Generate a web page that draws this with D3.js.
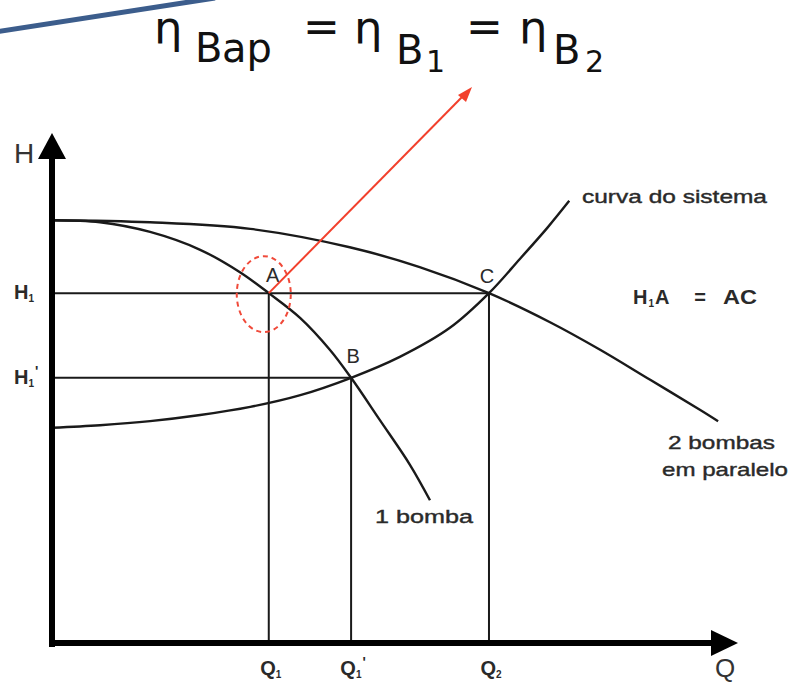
<!DOCTYPE html>
<html><head><meta charset="utf-8">
<script src="https://cdn.jsdelivr.net/npm/d3@7"></script>
<style>body{margin:0;background:#fff}svg{display:block}</style>
</head><body>
<script>
// ---- data (Q and H in arbitrary units) ----
const onePumpQ = [0, 0.70, 1.43, 2.16, 2.74, 3.16, 3.62, 4.05, 4.36, 4.78, 5.22, 5.51];
const onePumpH = [8.29, 8.25, 8.06, 7.71, 7.27, 6.86, 6.37, 5.75, 5.20, 4.37, 3.49, 2.80];
const twoPumpsQ = [0, 1.43, 2.89, 4.34, 5.36, 6.37, 7.26, 7.99, 8.72, 9.45, 9.71];
const twoPumpsH = [8.29, 8.25, 8.12, 7.76, 7.37, 6.86, 6.29, 5.75, 5.16, 4.57, 4.35];
const systemQ = [0, 0.70, 1.43, 2.16, 2.89, 3.62, 4.36, 5.07, 5.80, 6.37, 6.82, 7.22, 7.54];
const systemH = [4.22, 4.27, 4.35, 4.47, 4.63, 4.86, 5.20, 5.61, 6.18, 6.86, 7.53, 8.14, 8.67];
const pointNames = ["A", "B", "C"];
const pointQ = [3.16, 4.36, 6.37];
const pointH = [6.86, 5.20, 6.86];
const qTickValues = [3.16, 4.36, 6.37];
const qTickLabels = [["Q", "1", ""], ["Q", "1", "'"], ["Q", "2", ""]];
const hTickValues = [6.86, 5.20];
const hTickLabels = [["H", "1", ""], ["H", "1", "'"]];

const W = 794, H = 683;
const svg = d3.select("body").append("svg").attr("width", W).attr("height", H);

const x = d3.scaleLinear().domain([0, 10]).range([52, 738]);
const y = d3.scaleLinear().domain([0, 10]).range([643, 133]);
const ink = "#1a1a1a";
const font = "'Liberation Sans', Arial, sans-serif";
const txt = "#2a2a2a";

// decorative slide line
svg.append("line").attr("x1", -2).attr("y1", 31.5).attr("x2", 215).attr("y2", -2)
  .attr("stroke", "#3c5d8c").attr("stroke-width", 5);

// title
const tf = "'DejaVu Sans', 'Noto Sans', sans-serif";
const tcol = "#111";
function tt(str, xx, yy, fs) {
  svg.append("text").attr("x", xx).attr("y", yy).attr("font-family", tf)
    .attr("font-size", fs).attr("fill", tcol).text(str);
}
tt("η", 154, 43, 45); tt("B", 195, 62, 40); tt("ap", 222, 62, 40);
tt("=", 303, 42, 44);
tt("η", 354, 43, 45); tt("B", 396, 64, 40); tt("1", 426, 72, 30);
tt("=", 466, 42, 44);
tt("η", 519, 43, 45); tt("B", 553, 64, 40); tt("2", 585, 72, 30);

// reference lines to operating points
const pts = pointNames.map((n, i) => ({ n, q: pointQ[i], h: pointH[i] }));
svg.append("line").attr("x1", x(0)).attr("x2", x(pts[2].q)).attr("y1", y(pts[2].h)).attr("y2", y(pts[2].h))
  .attr("stroke", ink).attr("stroke-width", 2);
svg.append("line").attr("x1", x(0)).attr("x2", x(pts[1].q)).attr("y1", y(pts[1].h)).attr("y2", y(pts[1].h))
  .attr("stroke", ink).attr("stroke-width", 2);
pts.forEach(p => {
  svg.append("line").attr("x1", x(p.q)).attr("x2", x(p.q)).attr("y1", y(0)).attr("y2", y(p.h))
    .attr("stroke", ink).attr("stroke-width", 2);
});

// curves
const line = d3.line().x(d => x(d[0])).y(d => y(d[1])).curve(d3.curveCatmullRom.alpha(0.5));
const zip = (a, b) => a.map((v, i) => [v, b[i]]);
[[onePumpQ, onePumpH], [twoPumpsQ, twoPumpsH], [systemQ, systemH]].forEach(([q, h]) => {
  svg.append("path").attr("d", line(zip(q, h))).attr("fill", "none")
    .attr("stroke", ink).attr("stroke-width", 2.4);
});

// axes
svg.append("line").attr("x1", x(0)).attr("x2", x(0)).attr("y1", y(0) + 4).attr("y2", y(10) + 22)
  .attr("stroke", "#000").attr("stroke-width", 6);
svg.append("line").attr("x1", x(0) - 3).attr("x2", x(10) - 22).attr("y1", y(0)).attr("y2", y(0))
  .attr("stroke", "#000").attr("stroke-width", 6);
svg.append("path").attr("d", `M${x(0)},${y(10)} L${x(0) + 14},${y(10) + 26} L${x(0) - 14},${y(10) + 26} Z`).attr("fill", "#000");
svg.append("path").attr("d", `M${x(10)},${y(0)} L${x(10) - 27},${y(0) - 13} L${x(10) - 27},${y(0) + 13} Z`).attr("fill", "#000");

svg.append("text").attr("x", 14).attr("y", 163).attr("font-family", font).attr("font-size", 28)
  .attr("fill", "#333").text("H");
svg.append("text").attr("x", 725).attr("y", 677).attr("text-anchor", "middle").attr("font-family", font)
  .attr("font-size", 26).attr("fill", "#333").text("Q");

// tick labels
function subLabel(parts, xx, yy, anchor, fs) {
  const t = svg.append("text").attr("x", xx).attr("y", yy).attr("text-anchor", anchor)
    .attr("font-family", font).attr("font-size", fs).attr("font-weight", "bold").attr("fill", txt);
  t.append("tspan").text(parts[0]);
  t.append("tspan").attr("font-size", fs * 0.5).attr("dy", 3).text(parts[1]);
  if (parts[2]) t.append("tspan").attr("font-size", fs * 0.7).attr("dx", 1).attr("dy", -11).text(parts[2]);
  return t;
}
qTickValues.forEach((v, i) => subLabel(qTickLabels[i], x(v) + 2, 675, "middle", 20));
hTickValues.forEach((v, i) => subLabel(hTickLabels[i], 14, y(v) + 6, "start", 20));

// point labels
const pointLabelOffset = [[4, -11], [2, -15], [-2, -10]];
pts.forEach((p, i) => {
  svg.append("text").attr("x", x(p.q) + pointLabelOffset[i][0]).attr("y", y(p.h) + pointLabelOffset[i][1])
    .attr("text-anchor", "middle").attr("font-family", font).attr("font-size", 20).attr("fill", txt).text(p.n);
});

// red highlight ellipse and arrow
const A = pts[0];
svg.append("ellipse").attr("cx", x(A.q) - 5).attr("cy", y(A.h) + 1).attr("rx", 27).attr("ry", 38)
  .attr("fill", "none").attr("stroke", "#f04a3a").attr("stroke-width", 2).attr("stroke-dasharray", "5,4");
svg.append("line").attr("x1", x(A.q)).attr("y1", y(A.h)).attr("x2", 463).attr("y2", 96)
  .attr("stroke", "#f2402c").attr("stroke-width", 2);
svg.append("path").attr("d", "M472,87 L458,95 L466,102 Z").attr("fill", "#f2402c");

// annotations
function ann(str, xx, yy, len, fs) {
  return svg.append("text").attr("x", xx).attr("y", yy).attr("font-family", font).attr("font-size", fs)
    .attr("fill", txt).attr("stroke", txt).attr("stroke-width", 0.4)
    .attr("textLength", len).attr("lengthAdjust", "spacingAndGlyphs").text(str);
}
ann("curva do sistema", 582, 203, 185, 19);
ann("2 bombas", 668, 449, 107, 19);
ann("em paralelo", 662, 476, 126, 19);
ann("1 bomba", 375, 523, 98, 19);
const eq = svg.append("text").attr("x", 633).attr("y", 304).attr("font-family", font).attr("font-size", 20)
  .attr("font-weight", "bold").attr("fill", txt);
eq.append("tspan").text("H");
eq.append("tspan").attr("font-size", 10).attr("dx", 1).attr("dy", 3).text("1");
eq.append("tspan").attr("dx", 1).attr("dy", -3).text("A");
svg.append("text").attr("x", 700).attr("y", 304).attr("text-anchor", "middle").attr("font-family", font)
  .attr("font-size", 20).attr("font-weight", "bold").attr("fill", txt).text("=");
svg.append("text").attr("x", 723).attr("y", 304).attr("font-family", font).attr("font-size", 20)
  .attr("font-weight", "bold").attr("fill", txt)
  .attr("textLength", 34).attr("lengthAdjust", "spacingAndGlyphs").text("AC");
</script>
</body></html>
